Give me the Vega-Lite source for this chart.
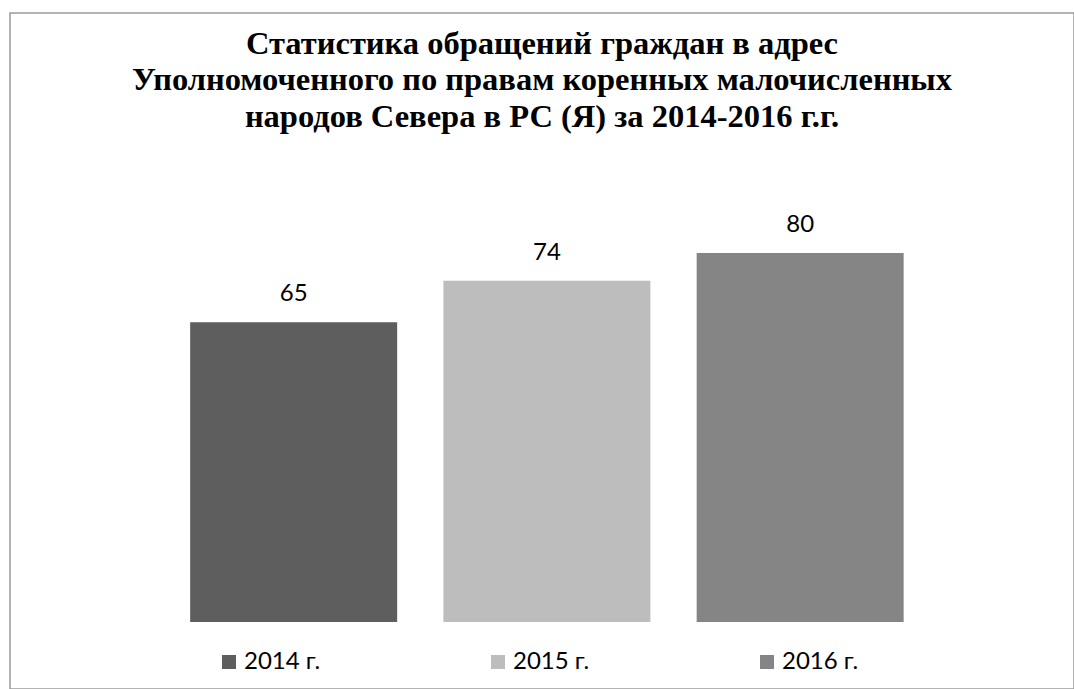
{
  "$schema": "https://vega.github.io/schema/vega-lite/v6.json",
  "width": 1064,
  "height": 676,
  "autosize": {"type": "none"},
  "padding": {"left": 10, "top": 13, "right": 0, "bottom": 0},
  "background": "#ffffff",
  "title": {
    "text": ["Статистика обращений граждан в адрес", "Уполномоченного по правам коренных малочисленных", "народов Севера в РС (Я) за 2014-2016 г.г."],
    "font": "'Liberation Serif', 'Times New Roman', serif",
    "fontWeight": "bold",
    "fontSize": 32.5,
    "lineHeight": 36.5,
    "color": "#000000",
    "anchor": "middle",
    "offset": -120
  },
  "config": {
    "view": {"stroke": "#9a9a9a", "strokeWidth": 1.5},
    "title": {"font": "'Liberation Serif', 'Times New Roman', serif"},
    "axis": {"domain": false, "ticks": false, "labels": false, "grid": false, "title": null}
  },
  "data": {
    "values": [
      {"year": "2014 г.", "count": 65},
      {"year": "2015 г.", "count": 74},
      {"year": "2016 г.", "count": 80}
    ]
  },
  "encoding": {
    "x": {
      "field": "year",
      "type": "nominal",
      "sort": null,
      "axis": null,
      "scale": {"paddingInner": 0.1826, "paddingOuter": 0.692, "align": 0.514}
    },
    "y": {
      "field": "count",
      "type": "quantitative",
      "axis": null,
      "scale": {"domain": [-14.5, 132], "nice": false, "zero": false}
    }
  },
  "layer": [
    {
      "mark": {"type": "bar"},
      "encoding": {
        "y2": {"datum": 0},
        "color": {
          "field": "year",
          "type": "nominal",
          "sort": null,
          "scale": {"domain": ["2014 г.", "2015 г.", "2016 г."], "range": ["#5e5e5e", "#bdbdbd", "#858585"]},
          "legend": {
            "title": null,
            "orient": "none",
            "legendX": 207,
            "legendY": 637,
            "direction": "horizontal",
            "columns": 3,
            "columnPadding": 165,
            "padding": 0,
            "symbolType": "square",
            "symbolSize": 196,
            "symbolStrokeWidth": 0,
            "labelFont": "Lato",
            "labelFontSize": 24,
            "labelColor": "#000000",
            "labelOffset": 3
          }
        }
      }
    },
    {
      "mark": {"type": "text", "baseline": "bottom", "dy": -16, "font": "Lato", "fontSize": 24, "color": "#000000"},
      "encoding": {"text": {"field": "count", "type": "quantitative"}}
    }
  ]
}
